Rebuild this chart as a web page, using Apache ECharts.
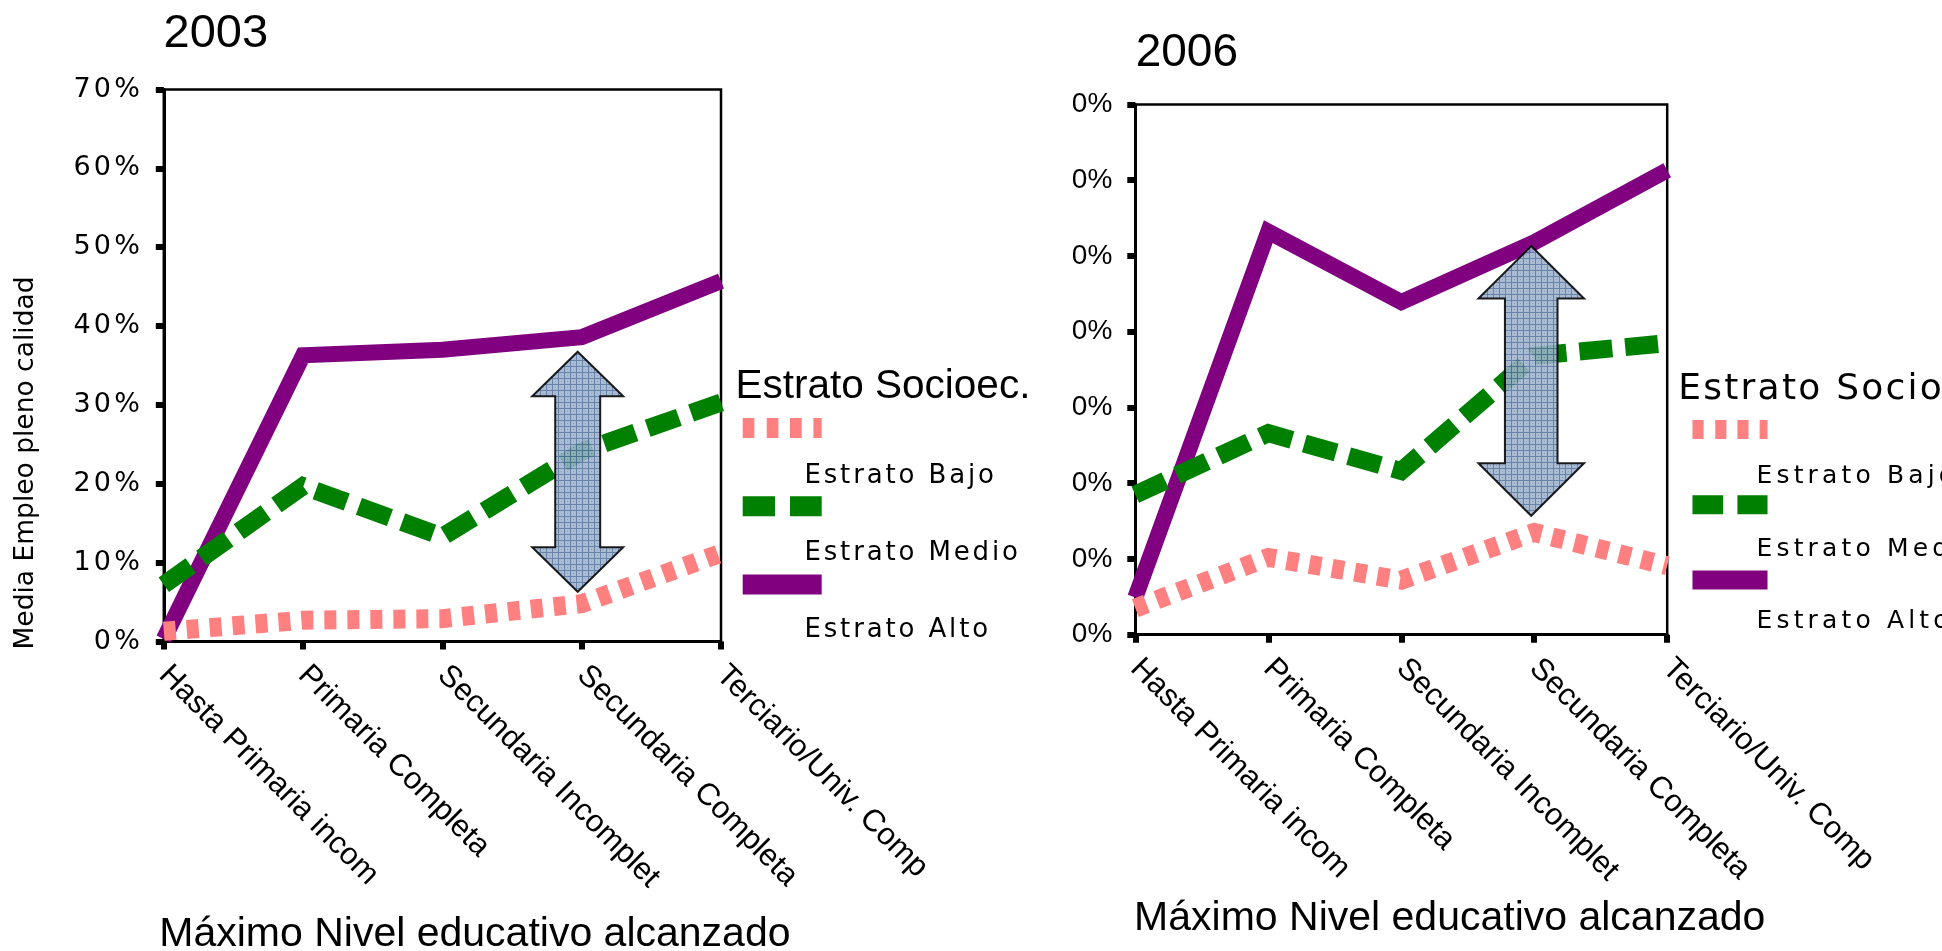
<!DOCTYPE html>
<html><head><meta charset="utf-8">
<script src="https://cdn.jsdelivr.net/npm/echarts@6/dist/echarts.min.js"></script>
<style>
html,body{margin:0;padding:0;background:#fff;width:1942px;height:951px;overflow:hidden}
#c1{position:absolute;left:0;top:0;width:1073px;height:951px}
#c2{position:absolute;left:1073px;top:0;width:869px;height:951px}
</style></head>
<body><div id="c1"></div><div id="c2"></div>
<script>
// ---- data ----
const categories = ['Hasta Primaria incom', 'Primaria Completa', 'Secundaria Incomplet', 'Secundaria Completa', 'Terciario/Univ. Comp'];
const seriesNames = ['Estrato Bajo', 'Estrato Medio', 'Estrato Alto'];
const bajo2003 = [1.3, 2.7, 2.9, 4.8, 11.2];
const medio2003 = [7.2, 19.7, 13.3, 24.1, 30.3];
const alto2003 = [0.3, 36.3, 37.0, 38.6, 45.7];
const bajo2006 = [3.5, 10.2, 7.2, 13.5, 9.1];
const medio2006 = [18.5, 26.6, 21.6, 36.8, 38.5];
const alto2006 = [4.9, 53.2, 43.9, 51.8, 61.3];
const arrow2003 = [3, 6.3, 36.75];   // category index, from %, to %
const arrow2006 = [3, 15.7, 51.3];
const yMin = 0, yMax = 70, yStep = 10;
const titles = ['2003', '2006'];
const legendTitle = 'Estrato Socioec.';
const xName = 'Máximo Nivel educativo alcanzado';
const yName = 'Media Empleo pleno calidad';

// ---- styles ----
const FA = 'Liberation Sans', FV = 'DejaVu Sans';
const COL = {bajo: '#ff8080', medio: '#008000', alto: '#800080'};
const icons = [
  'path://M0,0H11.7V20H0Z M24,0H35.7V20H24Z M47.3,0H59V20H47.3Z M70.7,0H79V20H70.7Z',
  'path://M0,0H32.3V20H0Z M47.3,0H79V20H47.3Z',
  'path://M0,0H79V20H0Z'
];
function spaced(t) { return t.split('').join('{s| }'); }

const pc = document.createElement('canvas'); pc.width = 6; pc.height = 6;
const g = pc.getContext('2d');
g.fillStyle = '#9fb3cf'; g.fillRect(0, 0, 6, 6);
g.fillStyle = '#52729f'; g.fillRect(0, 0, 6, 1); g.fillRect(0, 0, 1, 6);
g.fillStyle = '#8398b8'; g.fillRect(3, 3, 1, 1);
const pattern = {image: pc, repeat: 'repeat'};

function arrowRenderer(s) {
  return function (params, api) {
    const top = api.coord([api.value(0), api.value(2)]);
    const bot = api.coord([api.value(0), api.value(1)]);
    const cx = top[0] + s.dx, ty = top[1], by = bot[1];
    const hw = s.hw, sw = s.sw, hh = s.hh;
    return {
      type: 'polygon',
      shape: {points: [[cx, ty], [cx + hw, ty + hh], [cx + sw, ty + hh], [cx + sw, by - hh], [cx + hw, by - hh],
        [cx, by], [cx - hw, by - hh], [cx - sw, by - hh], [cx - sw, ty + hh], [cx - hw, ty + hh]]},
      style: {fill: pattern, stroke: '#000', lineWidth: 2, opacity: 0.88}
    };
  };
}

function lineSeries(bajo, medio, alto) {
  const base = {type: 'line', symbol: 'none', clip: false, silent: true};
  return [
    Object.assign({}, base, {name: 'Estrato Alto', data: alto, itemStyle: {color: COL.alto},
      lineStyle: {color: COL.alto, width: 16, join: 'miter', cap: 'butt'}, z: 2}),
    Object.assign({}, base, {name: 'Estrato Medio', data: medio, itemStyle: {color: COL.medio},
      lineStyle: {color: COL.medio, width: 18, type: [33, 13], join: 'miter', cap: 'butt'}, z: 3}),
    Object.assign({}, base, {name: 'Estrato Bajo', data: bajo, itemStyle: {color: COL.bajo},
      lineStyle: {color: COL.bajo, width: 19, type: [12, 11], join: 'miter', cap: 'butt'}, z: 4})
  ];
}

function makeOption(c) {
  return {
    animation: false,
    backgroundColor: c.bg,
    title: [
      {text: c.title, left: c.titleX, top: c.titleY, padding: 0,
        textStyle: {fontFamily: FA, fontSize: c.titleSize, fontWeight: 'normal', color: '#000'}},
      {text: c.legTitleText, left: c.legTitleX, top: c.legTitleY, padding: 0,
        textStyle: {fontFamily: c.legTitleFont, fontSize: c.legTitleSize, fontWeight: 'normal', color: '#000',
          rich: {s: {fontSize: c.legTitleSp, fontFamily: c.legTitleFont}}}}
    ],
    grid: {left: c.gl, top: c.gt, width: c.gw, height: c.gh, show: true, borderColor: '#000', borderWidth: 2.5,
      backgroundColor: 'transparent', containLabel: false, outerBoundsMode: 'none'},
    legend: [
      {data: seriesNames.map((n, i) => ({name: n, icon: icons[i]})), orient: 'vertical',
        left: c.liX, top: c.liY, itemWidth: c.liW, itemHeight: c.liH, itemGap: c.liGap, padding: 0,
        formatter: () => '', textStyle: {fontSize: 8}, itemStyle: {borderWidth: 0}, selectedMode: false},
      {data: seriesNames, orient: 'vertical', left: c.ltX, top: c.ltY, itemWidth: 0, itemHeight: 30,
        itemGap: c.ltGap, padding: 0, icon: 'rect', selectedMode: false,
        formatter: n => spaced(n),
        textStyle: {fontFamily: FV, fontSize: c.ltSize, color: '#000', lineHeight: 30,
          rich: {s: {fontSize: c.ltSp, lineHeight: 30, fontFamily: FV}}}}
    ],
    xAxis: {
      type: 'category', data: categories, boundaryGap: false,
      axisLine: {lineStyle: {color: '#000', width: 3}},
      axisTick: {length: 8, lineStyle: {color: '#000', width: 6}},
      axisLabel: {interval: 0, rotate: -45, margin: 29, fontFamily: FA, fontSize: 31, color: '#000'},
      name: xName, nameLocation: 'middle', nameGap: c.xNameGap,
      nameTextStyle: {fontFamily: FA, fontSize: 41, color: '#000', padding: [0, 0, 0, c.xNamePad]}
    },
    yAxis: {
      type: 'value', min: yMin, max: yMax, interval: yStep,
      splitLine: {show: false},
      axisLine: {show: true, lineStyle: {color: '#000', width: 3}},
      axisTick: {show: true, length: 8, lineStyle: {color: '#000', width: 6}},
      axisLabel: c.yLabel,
      name: c.yName, nameLocation: 'middle', nameRotate: 90, nameGap: 124,
      nameTextStyle: {fontFamily: FV, fontSize: 26.5, color: '#000', padding: [0, 195, 0, 0]}
    },
    series: lineSeries(c.bajo, c.medio, c.alto).concat([
      {type: 'custom', data: [c.arrow], renderItem: arrowRenderer(c.arrowSize), z: 10, silent: true}
    ])
  };
}

const ch1 = echarts.init(document.getElementById('c1'), null, {renderer: 'canvas'});
ch1.setOption(makeOption({
  bg: 'transparent',
  title: titles[0], titleX: 163.5, titleY: 10.3, titleSize: 47,
  legTitleText: legendTitle, legTitleX: 735.5, legTitleY: 366, legTitleFont: FA, legTitleSize: 40.5, legTitleSp: 1,
  gl: 163.8, gt: 89.5, gw: 557.2, gh: 552,
  liX: 742.7, liY: 418, liW: 79, liH: 20, liGap: 58.2,
  ltX: 799.4, ltY: 461.3, ltGap: 47, ltSize: 26, ltSp: 9,
  xNameGap: 272.5, xNamePad: 65,
  yLabel: {margin: 24, fontFamily: FV, fontSize: 27, color: '#000', formatter: v => spaced(v + '%'),
    rich: {s: {fontSize: 10, fontFamily: FV}}},
  yName: yName,
  bajo: bajo2003, medio: medio2003, alto: alto2003,
  arrow: arrow2003, arrowSize: {dx: -4, hw: 45.5, sw: 22.5, hh: 44.5}
}));

const ch2 = echarts.init(document.getElementById('c2'), null, {renderer: 'canvas'});
ch2.setOption(makeOption({
  bg: '#fff',
  title: titles[1], titleX: 62.7, titleY: 30.7, titleSize: 46,
  legTitleText: spaced(legendTitle), legTitleX: 605.3, legTitleY: 371.5, legTitleFont: FV, legTitleSize: 36, legTitleSp: 7,
  gl: 62.3, gt: 104.4, gw: 531.9, gh: 530.3,
  liX: 617, liY: 420, liW: 80, liH: 19, liGap: 56.2,
  ltX: 678.6, ltY: 461.5, ltGap: 42.7, ltSize: 25, ltSp: 13,
  xNameGap: 263, xNamePad: 97,
  yLabel: {margin: 23, fontFamily: FA, fontSize: 28, color: '#000', formatter: v => v + '%'},
  yName: '',
  bajo: bajo2006, medio: medio2006, alto: alto2006,
  arrow: arrow2006, arrowSize: {dx: -3, hw: 52.8, sw: 26.3, hh: 52.5}
}));
</script>
</body></html>
